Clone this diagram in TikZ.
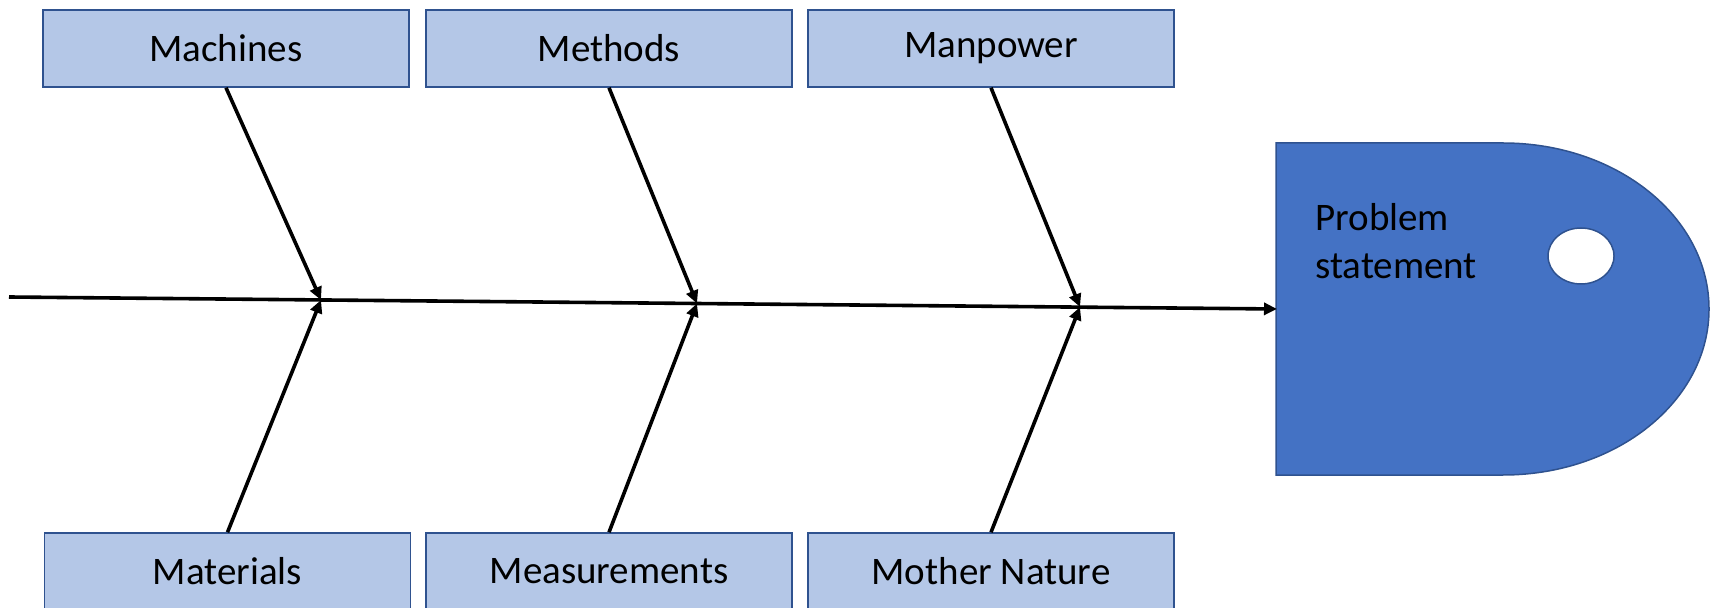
\documentclass[tikz,border=0pt]{standalone}
\usepackage{fontspec}
\setmainfont{Carlito}
\usetikzlibrary{arrows.meta}
\definecolor{boxfill}{HTML}{B4C7E7}
\definecolor{boxline}{HTML}{2F528F}
\definecolor{headfill}{HTML}{4472C4}
\begin{document}
\begin{tikzpicture}[x=0.5pt,y=-0.5pt,
  cause/.style={draw=boxline, fill=boxfill, line width=0.75pt,
    minimum width=183pt, minimum height=38.5pt, inner sep=0pt,
    font=\fontsize{19.5}{23.4}\selectfont},
  bone/.style={line width=1.8pt, -{Triangle[length=6.5pt,width=6pt]}},
  spine/.style={line width=1.8pt, -{Triangle[length=6.5pt,width=6pt]}},
  headshape/.style={draw=boxline, fill=headfill, line width=0.75pt}]
\useasboundingbox (0,0) rectangle (1711,608);

% cause boxes
\node[cause] (mach) at (226,48.5) {Machines};
\node[cause] (meth) at (609,48.5) {Methods};
\node[cause] (manp) at (991,48.5) {Manpower};
\node[cause] (mate) at (227.5,571.5) {Materials};
\node[cause] (meas) at (609,571.5) {Measurements};
\node[cause] (moth) at (991,571.5) {Mother Nature};

% fish head
\path[headshape] (1276,143) -- (1503,143)
  .. controls (1617.3,143) and (1709,217.3) .. (1709,309)
  .. controls (1709,400.7) and (1617.3,475) .. (1503,475)
  -- (1276,475) -- cycle;
\draw[draw=boxline, fill=white, line width=0.75pt] (1581,256) ellipse [x radius=16.5pt, y radius=14pt];
\node[anchor=north west, align=left, inner sep=0pt,
  font=\fontsize{19.5}{24}\selectfont] (ps) at (1315,203) {Problem\\statement};

% spine
\coordinate (tail) at (9,297);
\coordinate (head) at (1277,309);
\coordinate (j1) at (321,300);
\coordinate (j2) at (697,303.5);
\coordinate (j3) at (1080,307);
\draw[spine] (tail) -- (head);

% bones
\draw[bone] (mach.south) -- (j1);
\draw[bone] (mate.north) -- (j1);
\draw[bone] (meth.south) -- (j2);
\draw[bone] (meas.north) -- (j2);
\draw[bone] (manp.south) -- (j3);
\draw[bone] (moth.north) -- (j3);
\end{tikzpicture}
\end{document}
